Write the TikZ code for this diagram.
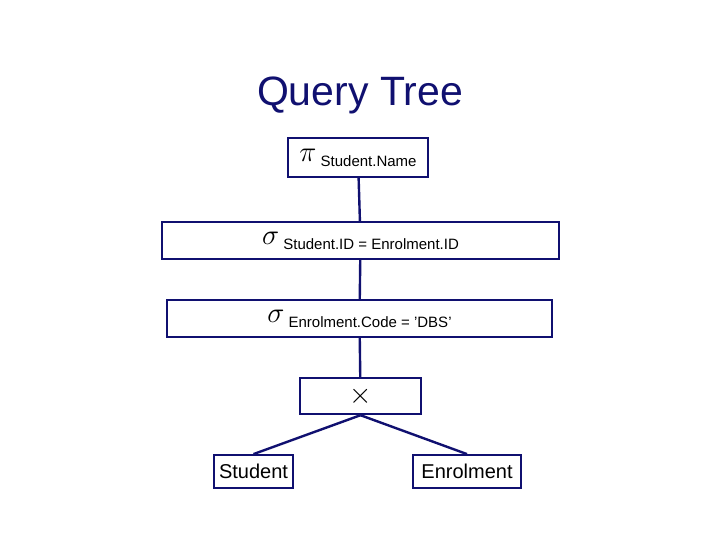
\documentclass[tikz,border=0pt]{standalone}
\usepackage{fontspec}
\setmainfont{Liberation Sans}
\definecolor{navy}{RGB}{16,16,112}
\newcommand{\opsym}[1]{\scalebox{2}{$#1$}}
\begin{document}
\begin{tikzpicture}[x=1pt, y=-1pt,
    op/.style={draw=navy, line width=2.4pt, inner sep=0pt, font=\fontsize{15}{16}\selectfont},
    rel/.style={draw=navy, line width=1.8pt, inner sep=0pt, font=\fontsize{20}{20}\selectfont},
    link/.style={navy, line width=2.4pt}]
    \useasboundingbox (0,0) rectangle (720,540);
    % --- title ---
    \node[navy, font=\fontsize{41}{42}\selectfont] (title) at (360,95) {Query Tree};
    % --- operators ---
    \node[op, minimum width=140, minimum height=39] (proj) at (358,157.5)
        {\opsym{\pi} \raisebox{-5pt}{Student.Name}};
    \node[op, minimum width=397, minimum height=37] (join) at (360.5,240.5)
        {\opsym{\sigma} \raisebox{-5pt}{Student.ID = Enrolment.ID}};
    \node[op, minimum width=385, minimum height=37] (sel) at (359.5,318.5)
        {\opsym{\sigma} \raisebox{-5pt}{Enrolment.Code = 'DBS'}};
    \node[op, minimum width=121, minimum height=36] (prod) at (360.5,396) {\opsym{\times}};
    % --- relations ---
    \node[rel, minimum width=79, minimum height=33] (stud) at (253.5,471.5) {Student};
    \node[rel, minimum width=108, minimum height=33] (enrol) at (467,471.5) {Enrolment};
    % --- edges ---
    \draw[link] (proj) -- (join);
    \draw[link] (join) -- (sel);
    \draw[link] (sel) -- (prod);
    \draw[link] (prod.south) -- (stud.north);
    \draw[link] (prod.south) -- (enrol.north);
\end{tikzpicture}
\end{document}
